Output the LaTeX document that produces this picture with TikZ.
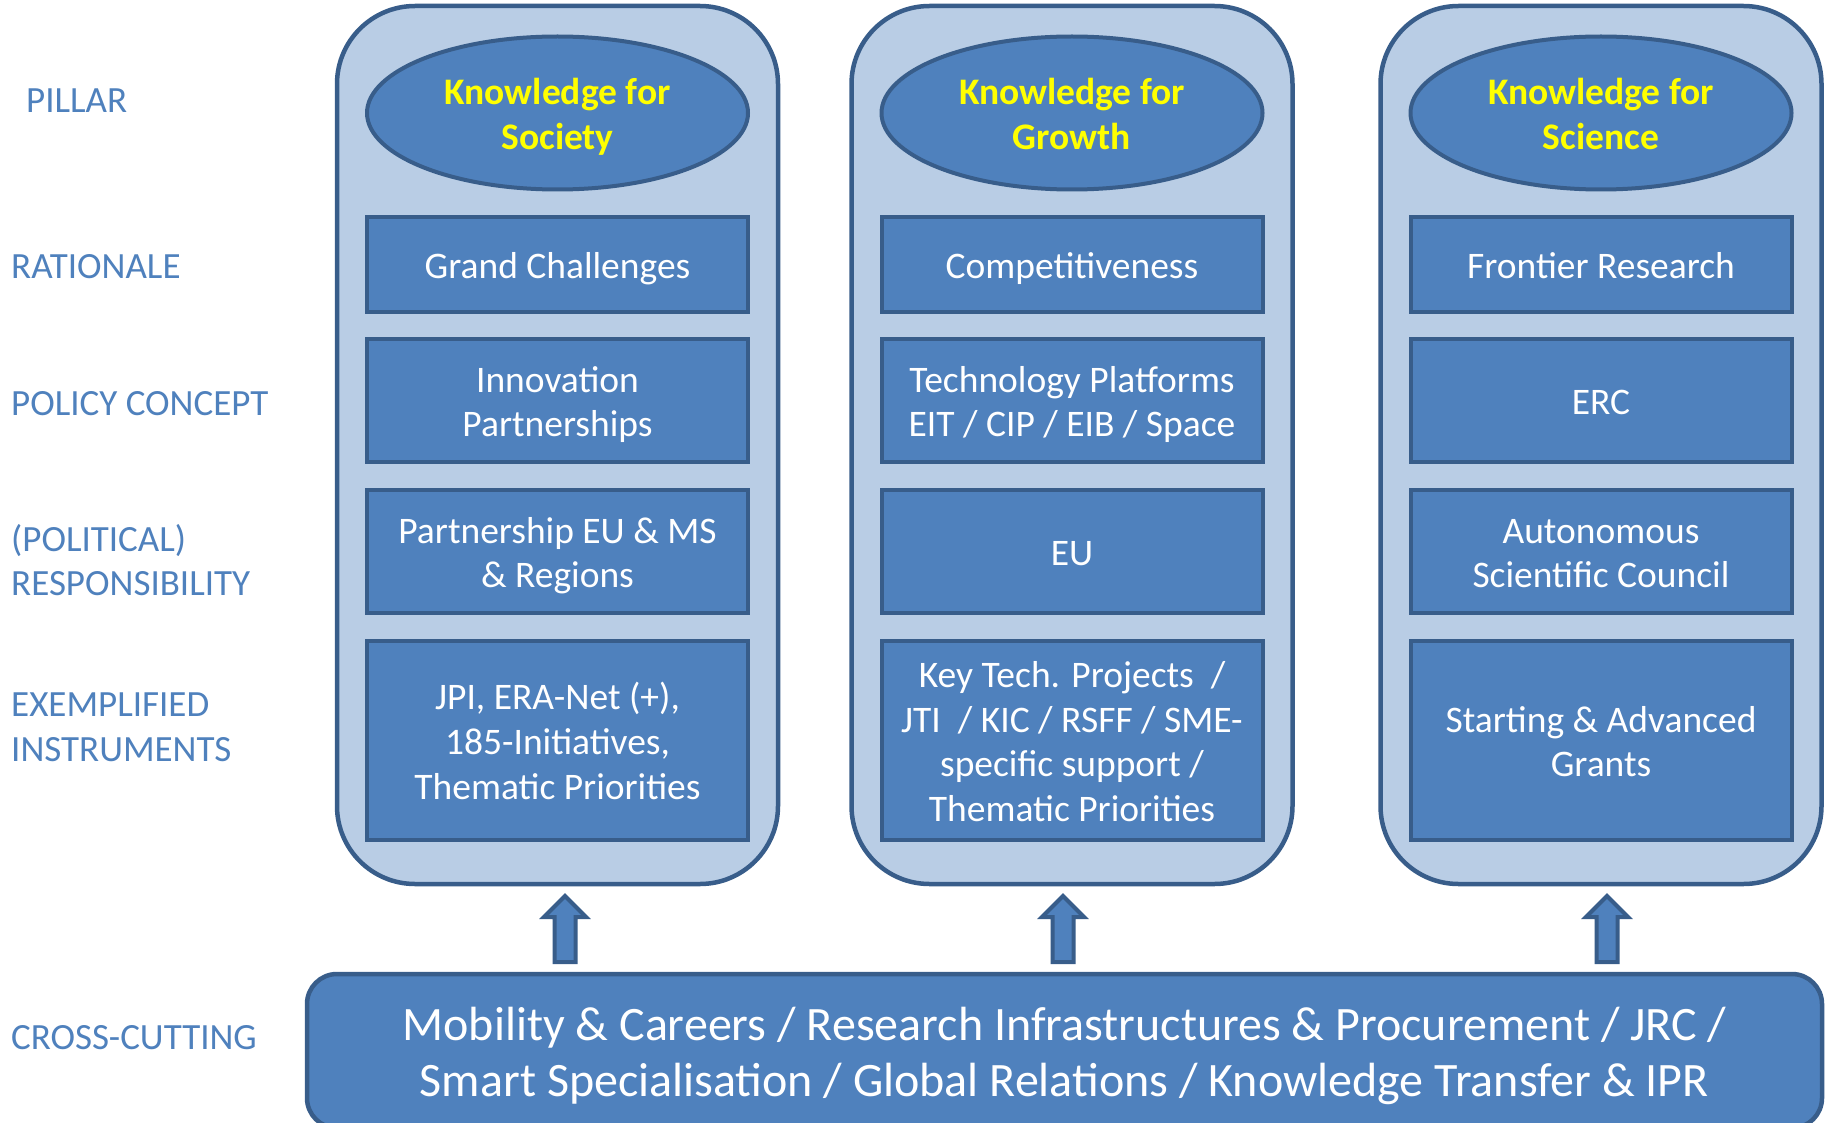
\documentclass[tikz,border=0pt]{standalone}
\usepackage{fontspec}
\setmainfont{Carlito}
\usetikzlibrary{shapes.geometric}
\definecolor{dblue}{HTML}{4F81BD}
\definecolor{bord}{HTML}{385D8A}
\definecolor{lblue}{HTML}{B9CDE5}
\definecolor{ylw}{HTML}{FFFF00}
\newcommand\topstrut{\rule{0pt}{0.96em}}
\newcommand\botstrut{\rule[-0.218em]{0pt}{0.218em}}
% centred lines (separated by \cr)
\newcommand\tb[1]{\vbox{\halign{\hfil##\hfil\cr\topstrut#1\botstrut\crcr}}}
\begin{document}
\begin{tikzpicture}[x=1pt,y=-1pt,
 col/.style={draw=bord, fill=lblue, line width=4.5pt, rounded corners=78pt, minimum width=441pt, minimum height=878pt, inner sep=0pt},
 pill/.style={ellipse, draw=bord, fill=dblue, line width=4pt, minimum width=381pt, minimum height=153pt, inner sep=0pt, text=ylw, font=\fontsize{37.5}{44.8}\selectfont\bfseries},
 cell/.style={draw=bord, fill=dblue, line width=4pt, minimum width=381pt, inner sep=0pt, text=white, font=\fontsize{37.5}{44.8}\selectfont},
 lab/.style={anchor=base west, text=dblue, font=\fontsize{37}{44}\selectfont, inner sep=0pt},
 uparrow/.style={draw=bord, fill=dblue, line width=4pt, line join=miter},
 cross/.style={draw=bord, fill=dblue, line width=4.5pt, rounded corners=30pt, minimum width=1515pt, minimum height=154pt, inner sep=0pt, text=white, font=\fontsize{48}{56}\selectfont},
]
\clip (0,0) rectangle (1825,1123);
\fill[white] (0,0) rectangle (1825,1123);

% left labels
\node[lab] (lpillar) at (26,113) {PILLAR};
\node[lab] (lrat) at (11,279) {RATIONALE};
\node[lab] (lpol) at (11,415) {POLICY CONCEPT};
\node[lab] (lres1) at (11,551) {(POLITICAL)};
\node[lab] (lres2) at (11,595) {RESPONSIBILITY};
\node[lab] (lex1) at (11,716) {EXEMPLIFIED};
\node[lab] (lex2) at (11,761) {INSTRUMENTS};
\node[lab] (lcross) at (11,1049) {CROSS-CUTTING};

% columns
\node[col] (c1) at (557.5,445) {};
\node[col] (c2) at (1072,445) {};
\node[col] (c3) at (1601,445) {};

% pillars
\node[pill] (p1) at (557.5,113) {\tb{Knowledge for\cr Society}};
\node[pill] (p2) at (1072,113) {\tb{Knowledge for\cr Growth}};
\node[pill] (p3) at (1601,113) {\tb{Knowledge for\cr Science}};

% rationale
\node[cell, minimum height=95pt] (r1) at (557.5,264.5) {\tb{Grand Challenges}};
\node[cell, minimum height=95pt] (r2) at (1072,264.5) {\tb{Competitiveness}};
\node[cell, minimum height=95pt] (r3) at (1601,264.5) {\tb{Frontier Research}};

% policy concept
\node[cell, minimum height=123pt] (pc1) at (557.5,400.5) {\tb{Innovation\cr Partnerships}};
\node[cell, minimum height=123pt] (pc2) at (1072,400.5) {\tb{Technology Platforms\cr EIT / CIP / EIB / Space}};
\node[cell, minimum height=123pt] (pc3) at (1601,400.5) {\tb{ERC}};

% responsibility
\node[cell, minimum height=123pt] (rs1) at (557.5,551.5) {\tb{Partnership EU \& MS\cr \& Regions}};
\node[cell, minimum height=123pt] (rs2) at (1072,551.5) {\tb{EU}};
\node[cell, minimum height=123pt] (rs3) at (1601,551.5) {\tb{Autonomous\cr Scientific Council}};

% instruments
\node[cell, minimum height=199pt] (in1) at (557.5,740.5) {\tb{JPI, ERA-Net (+),\cr 185-Initiatives,\cr Thematic Priorities}};
\node[cell, minimum height=199pt] (in2) at (1072,740.5) {\tb{Key Tech. Projects\ \ /\cr JTI\ \ / KIC / RSFF / SME-\cr specific support /\cr Thematic Priorities}};
\node[cell, minimum height=199pt] (in3) at (1601,740.5) {\tb{Starting \& Advanced\cr Grants}};

% cross-cutting
\node[cross] (cc) at (1064.5,1051) {\tb{Mobility \& Careers / Research Infrastructures \& Procurement / JRC /\cr Smart Specialisation / Global Relations / Knowledge Transfer \& IPR}};

% arrows
\coordinate (a1) at (565,962);
\coordinate (a2) at (1063,962);
\coordinate (a3) at (1607,962);
\foreach \a in {a1,a2,a3}{
  \draw[uparrow] ([xshift=-10.5pt]\a) -- ++(0,-45) -- ++(-10.5,0) -- ++(21,-21) -- ++(21,21) -- ++(-10.5,0) -- ++(0,45) -- cycle;
}
\end{tikzpicture}
\end{document}
